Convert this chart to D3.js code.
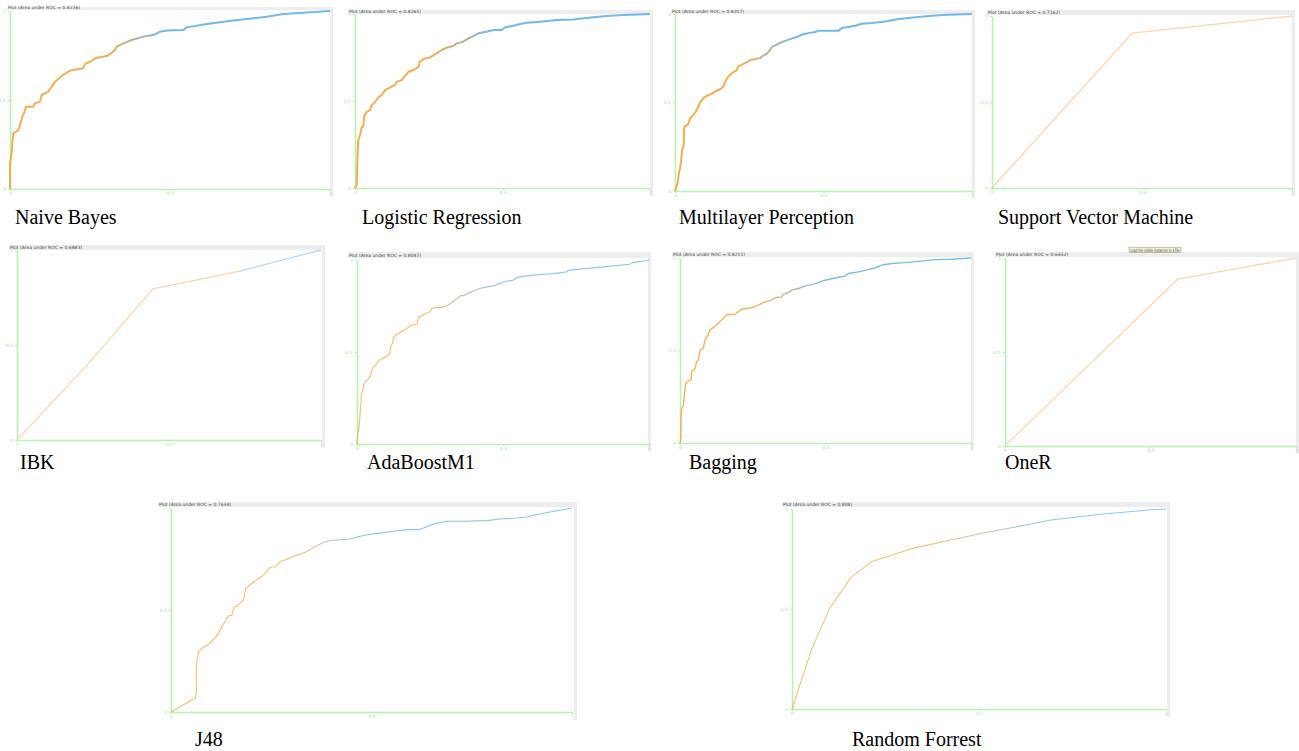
<!DOCTYPE html>
<html>
<head>
<meta charset="utf-8">
<script src="https://cdn.jsdelivr.net/npm/d3@7"></script>
<style>
  body { margin: 0; background: #fff; }
  .cap { font-family: "Liberation Serif", "Times New Roman", serif; font-size: 20px; fill: #000; }
  .ttl { font-family: "DejaVu Sans", sans-serif; font-size: 4.5px; fill: #444; }
  .axis path, .axis line { stroke: #b6f2b0; }
  .axis text { fill: #9ee29a; font-family: "DejaVu Sans", sans-serif; font-size: 4.5px; }
</style>
</head>
<body>
<svg id="fig" width="1299" height="751"></svg>
<script>
// ROC points: [false positive rate, true positive rate]
var naiveBayes = [[0,0],[0,0.144],[0.005,0.2],[0.008,0.275],[0.01,0.312],[0.026,0.331],[0.033,0.369],[0.04,0.416],[0.044,0.425],[0.05,0.462],[0.073,0.462],[0.078,0.481],[0.094,0.491],[0.099,0.528],[0.12,0.547],[0.127,0.566],[0.141,0.603],[0.161,0.635],[0.188,0.665],[0.229,0.678],[0.234,0.702],[0.25,0.715],[0.266,0.734],[0.281,0.74],[0.302,0.747],[0.313,0.758],[0.328,0.781],[0.333,0.8],[0.354,0.818],[0.38,0.837],[0.417,0.856],[0.448,0.865],[0.469,0.884],[0.49,0.89],[0.542,0.893],[0.552,0.908],[0.615,0.927],[0.698,0.946],[0.802,0.968],[0.854,0.983],[1,1]];
var logistic = [[0,0],[0.006,0.015],[0.008,0.159],[0.011,0.274],[0.017,0.303],[0.023,0.351],[0.028,0.355],[0.031,0.413],[0.04,0.438],[0.051,0.447],[0.056,0.476],[0.068,0.495],[0.079,0.52],[0.09,0.534],[0.102,0.562],[0.119,0.578],[0.136,0.591],[0.141,0.61],[0.158,0.62],[0.169,0.643],[0.181,0.668],[0.203,0.681],[0.215,0.697],[0.22,0.726],[0.237,0.745],[0.254,0.75],[0.266,0.764],[0.277,0.774],[0.294,0.793],[0.311,0.806],[0.333,0.816],[0.345,0.831],[0.367,0.841],[0.384,0.86],[0.401,0.873],[0.418,0.889],[0.446,0.898],[0.469,0.908],[0.497,0.908],[0.508,0.923],[0.537,0.933],[0.559,0.942],[0.582,0.95],[0.627,0.956],[0.684,0.965],[0.74,0.969],[0.808,0.981],[0.853,0.988],[0.91,0.994],[1,1]];
var multilayer = [[0,0],[0.009,0.047],[0.013,0.1],[0.017,0.128],[0.022,0.194],[0.025,0.242],[0.029,0.251],[0.031,0.364],[0.043,0.374],[0.051,0.411],[0.062,0.43],[0.07,0.449],[0.079,0.477],[0.084,0.5],[0.096,0.525],[0.107,0.538],[0.124,0.549],[0.135,0.562],[0.152,0.575],[0.163,0.591],[0.169,0.619],[0.18,0.647],[0.191,0.666],[0.208,0.681],[0.213,0.704],[0.236,0.723],[0.247,0.732],[0.253,0.742],[0.27,0.745],[0.287,0.751],[0.292,0.76],[0.309,0.775],[0.32,0.798],[0.326,0.813],[0.348,0.832],[0.365,0.845],[0.382,0.855],[0.399,0.864],[0.416,0.874],[0.427,0.883],[0.449,0.892],[0.472,0.898],[0.483,0.906],[0.551,0.906],[0.562,0.921],[0.607,0.934],[0.629,0.945],[0.663,0.949],[0.708,0.958],[0.753,0.972],[0.82,0.983],[0.876,0.992],[0.921,0.996],[1,1]];
var svm = [[0,0],[0.467,0.9],[1,1]];
var ibk = [[0,0],[0.228,0.39],[0.447,0.795],[0.733,0.889],[1,1]];
var adaBoost = [[0,0],[0.002,0.049],[0.006,0.085],[0.009,0.121],[0.011,0.175],[0.014,0.229],[0.014,0.256],[0.018,0.283],[0.023,0.319],[0.028,0.337],[0.04,0.355],[0.046,0.373],[0.051,0.4],[0.057,0.418],[0.068,0.436],[0.074,0.454],[0.097,0.472],[0.112,0.49],[0.114,0.517],[0.123,0.557],[0.125,0.58],[0.137,0.598],[0.148,0.607],[0.159,0.616],[0.177,0.634],[0.182,0.643],[0.205,0.652],[0.211,0.688],[0.222,0.697],[0.239,0.712],[0.251,0.719],[0.256,0.737],[0.268,0.742],[0.29,0.742],[0.308,0.751],[0.325,0.769],[0.336,0.784],[0.347,0.796],[0.353,0.805],[0.37,0.809],[0.381,0.82],[0.399,0.832],[0.41,0.841],[0.433,0.85],[0.467,0.859],[0.49,0.874],[0.513,0.886],[0.535,0.89],[0.547,0.905],[0.564,0.91],[0.581,0.914],[0.626,0.921],[0.672,0.926],[0.718,0.935],[0.723,0.944],[0.763,0.95],[0.82,0.959],[0.877,0.968],[0.934,0.977],[0.945,0.986],[1,1]];
var bagging = [[0,0],[0.003,0.027],[0.003,0.117],[0.006,0.189],[0.011,0.197],[0.015,0.26],[0.019,0.314],[0.023,0.332],[0.038,0.341],[0.04,0.386],[0.052,0.404],[0.057,0.44],[0.063,0.449],[0.069,0.503],[0.08,0.512],[0.086,0.557],[0.097,0.585],[0.103,0.612],[0.12,0.63],[0.132,0.648],[0.149,0.675],[0.16,0.693],[0.189,0.696],[0.2,0.709],[0.212,0.723],[0.246,0.731],[0.269,0.745],[0.292,0.763],[0.315,0.772],[0.326,0.785],[0.349,0.79],[0.355,0.803],[0.372,0.813],[0.384,0.826],[0.407,0.835],[0.43,0.849],[0.453,0.856],[0.475,0.867],[0.498,0.88],[0.533,0.892],[0.567,0.903],[0.579,0.916],[0.613,0.925],[0.647,0.937],[0.67,0.946],[0.693,0.961],[0.727,0.97],[0.773,0.975],[0.819,0.982],[0.876,0.991],[0.933,0.993],[1,1]];
var oneR = [[0,0],[0.594,0.888],[1,1]];
var j48 = [[0,0],[0.061,0.069],[0.063,0.101],[0.063,0.208],[0.065,0.257],[0.069,0.297],[0.073,0.306],[0.098,0.338],[0.119,0.387],[0.127,0.42],[0.144,0.472],[0.152,0.475],[0.158,0.515],[0.166,0.521],[0.181,0.551],[0.184,0.583],[0.187,0.608],[0.214,0.649],[0.227,0.665],[0.249,0.711],[0.26,0.711],[0.273,0.739],[0.281,0.743],[0.306,0.763],[0.335,0.783],[0.356,0.807],[0.381,0.832],[0.397,0.841],[0.447,0.848],[0.464,0.858],[0.489,0.869],[0.522,0.877],[0.555,0.886],[0.589,0.894],[0.618,0.894],[0.63,0.902],[0.655,0.922],[0.688,0.935],[0.73,0.935],[0.788,0.938],[0.821,0.946],[0.863,0.951],[0.888,0.956],[0.909,0.967],[1,1]];
var randomForest = [[0,0],[0.053,0.302],[0.101,0.504],[0.157,0.657],[0.214,0.738],[0.321,0.803],[0.459,0.859],[0.509,0.879],[0.58,0.904],[0.693,0.945],[0.833,0.975],[0.954,0.995],[1,1]];

var captions = ["Naive Bayes","Logistic Regression","Multilayer Perception","Support Vector Machine","IBK","AdaBoostM1","Bagging","OneR","J48","Random Forrest"];
var aucTitles = ["Plot (Area under ROC = 0.8236)","Plot (Area under ROC = 0.8265)","Plot (Area under ROC = 0.8207)","Plot (Area under ROC = 0.7162)",
                 "Plot (Area under ROC = 0.6883)","Plot (Area under ROC = 0.8047)","Plot (Area under ROC = 0.8211)","Plot (Area under ROC = 0.6432)",
                 "Plot (Area under ROC = 0.7634)","Plot (Area under ROC = 0.808)"];
var tickValues = [0, 0.5, 1];
var tickLabels = ["0", "0.5", "1"];
var curves = [naiveBayes, logistic, multilayer, svm, ibk, adaBoost, bagging, oneR, j48, randomForest];

// where each screenshot sits on the page (plot box, frame, caption) and how its line is tinted
var layout = [
  {x0:10,  x1:330,  top:11,  bottom:189, fx0:7,   fx1:333,  tt:7,   th:3, cx:15,   cy:224, mid:0.38, spread:0.1,  w:2,   op:0.9,  pale:false},
  {x0:355, x1:650,  top:14,  bottom:188, fx0:348, fx1:653,  tt:10,  th:4, cx:362,  cy:224, mid:0.36, spread:0.12, w:2,   op:0.9,  pale:false},
  {x0:675, x1:972,  top:14,  bottom:191, fx0:671, fx1:975,  tt:10,  th:4, cx:679,  cy:224, mid:0.32, spread:0.1,  w:2,   op:0.9,  pale:false},
  {x0:992, x1:1292, top:16,  bottom:188, fx0:987, fx1:1295, tt:10,  th:5, cx:998,  cy:224, mid:2,    spread:0.1,  w:1.3, op:1,    pale:true},
  {x0:17,  x1:321,  top:250, bottom:440, fx0:9,   fx1:325,  tt:245, th:5, cx:20,   cy:469, mid:0.733,spread:0.003,w:1.3, op:1,    pale:true},
  {x0:357, x1:649,  top:260, bottom:444, fx0:348, fx1:651,  tt:252, th:6, cx:367,  cy:469, mid:0.38, spread:0.13, w:1.2, op:0.7,  pale:false},
  {x0:680, x1:971,  top:258, bottom:443, fx0:672, fx1:974,  tt:252, th:5, cx:689,  cy:469, mid:0.38, spread:0.13, w:1.4, op:0.85, pale:false},
  {x0:1005,x1:1296, top:258, bottom:446, fx0:995, fx1:1299, tt:252, th:5, cx:1005, cy:469, mid:2,    spread:0.1,  w:1.3, op:1,    pale:true},
  {x0:171, x1:572,  top:508, bottom:712, fx0:158, fx1:577,  tt:502, th:5, cx:195,  cy:746, mid:0.4,  spread:0.08, w:1.1, op:0.75, pale:false},
  {x0:792, x1:1166, top:509, bottom:709, fx0:782, fx1:1170, tt:502, th:5, cx:852,  cy:746, mid:0.52, spread:0.18, w:1.1, op:0.7,  pale:false}
];

var svg = d3.select("#fig");
var defs = svg.append("defs");

layout.forEach(function(p, i) {
    var g = svg.append("g");

    // frame: grey title strip + grey border, white plot inside
    g.append("rect")
        .attr("x", p.fx0).attr("y", p.tt)
        .attr("width", p.fx1 - p.fx0).attr("height", p.bottom + 8 - p.tt)
        .attr("fill", "#ededed");
    g.append("rect")
        .attr("x", p.fx0).attr("y", p.tt + p.th)
        .attr("width", p.fx1 - p.fx0 - 3).attr("height", p.bottom + 8 - p.tt - p.th)
        .attr("fill", "#fff");
    g.append("text")
        .attr("class", "ttl")
        .attr("x", p.fx0 + 1).attr("y", p.tt + p.th - 0.8)
        .text(aucTitles[i]);

    var x = d3.scaleLinear().domain([0, 1]).range([p.x0, p.x1]);
    var y = d3.scaleLinear().domain([0, 1]).range([p.bottom, p.top]);

    var xAxis = d3.axisBottom(x).tickValues(tickValues).tickFormat(function(d, k) { return tickLabels[k]; })
                  .tickSize(2).tickSizeOuter(0).tickPadding(1);
    var yAxis = d3.axisLeft(y).tickValues(tickValues).tickFormat(function(d, k) { return tickLabels[k]; })
                  .tickSize(2).tickSizeOuter(0).tickPadding(2);
    g.append("g").attr("class", "axis").attr("transform", "translate(0," + p.bottom + ")").call(xAxis)
        .select(".domain").attr("stroke-width", 1.6);
    g.append("g").attr("class", "axis").attr("transform", "translate(" + p.x0 + ",0)").call(yAxis)
        .select(".domain").attr("stroke-width", 1.6);
    g.selectAll(".axis text").attr("font-size", null);

    // threshold tint: orange -> grey-green -> blue along the false positive axis
    var orange = p.pale ? "#fcd6ad" : "#f4a53c";
    var middle = p.pale ? "#dcd8c8" : "#a9ad8e";
    var blue   = p.pale ? "#b4d9f2" : "#62b1e6";
    var gid = "tint" + i;
    var grad = defs.append("linearGradient").attr("id", gid)
        .attr("gradientUnits", "userSpaceOnUse")
        .attr("x1", x(0)).attr("x2", x(1)).attr("y1", 0).attr("y2", 0);
    var stops = [[p.mid - p.spread, orange], [p.mid, middle], [p.mid + p.spread, blue]];
    stops.forEach(function(s) {
        grad.append("stop").attr("offset", Math.max(0, Math.min(1, s[0]))).attr("stop-color", s[1]);
    });

    var line = d3.line()
        .x(function(d) { return x(d[0]); })
        .y(function(d) { return y(d[1]); });
    g.append("path")
        .datum(curves[i])
        .attr("d", line)
        .attr("fill", "none")
        .attr("stroke", "url(#" + gid + ")")
        .attr("stroke-width", p.w)
        .attr("stroke-opacity", p.op)
        .attr("stroke-linejoin", "round");

    g.append("text")
        .attr("class", "cap")
        .attr("x", p.cx).attr("y", p.cy)
        .text(captions[i]);
});

// Weka tooltip showing over the OneR plot
var tip = svg.append("g");
tip.append("rect").attr("x", 1129).attr("y", 247.5).attr("width", 52).attr("height", 5)
    .attr("fill", "#f4f1cf").attr("stroke", "#777").attr("stroke-width", 0.4);
tip.append("text").attr("class", "ttl").attr("x", 1130.5).attr("y", 251.5).attr("font-size", "3.6px")
    .attr("textLength", 49).attr("lengthAdjust", "spacingAndGlyphs")
    .text("Load the visible instances to a file");
</script>
</body>
</html>
